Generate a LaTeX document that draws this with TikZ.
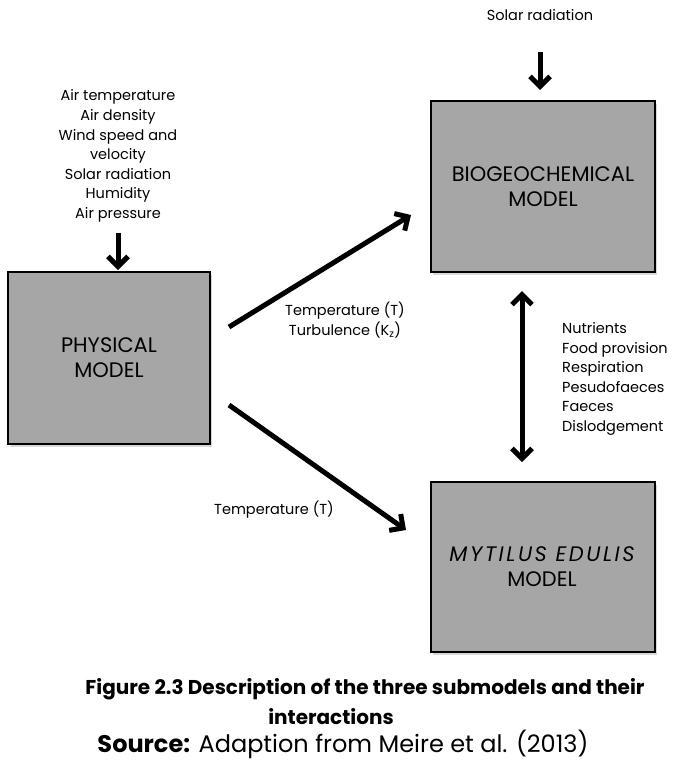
\documentclass[tikz,border=0pt]{standalone}
\usepackage{fontspec}
\setmainfont{Poppins}
\usetikzlibrary{arrows.meta,shadows}
\begin{document}
\begin{tikzpicture}[x=1pt,y=-1pt,
  modelbox/.style={draw=black,line width=1.6pt,fill=boxgray,
    drop shadow={shadow xshift=2pt,shadow yshift=-3pt,fill=black,opacity=0.15}},
  headtip/.tip={Straight Barb[length=10pt,width=20pt,line width=5pt]},
  bigarrow/.style={line width=5pt,-headtip},
  dblarrow/.style={line width=5pt,headtip-headtip},
  lbl/.style={font=\fontsize{14.5}{19.6}\selectfont,inner sep=0pt},
  boxtxt/.style={font=\fontsize{21}{25}\selectfont,align=center}]
\definecolor{boxgray}{HTML}{A6A6A6}
\useasboundingbox (0,0) rectangle (677,761);
\fill[white] (0,0) rectangle (677,761);
% boxes
\path[modelbox] (8,272) rectangle (210,444);
\path[modelbox] (431,101) rectangle (655,272);
\path[modelbox] (431,482) rectangle (655,652);
\node[boxtxt] (phys) at (109,358) {PHYSICAL\\MODEL};
\node[boxtxt] (bio) at (543,187) {BIOGEOCHEMICAL\\MODEL};
\node[boxtxt] (myt) at (542,567) {{\itshape\addfontfeature{LetterSpace=12}MYTILUS EDULIS}\\MODEL};
% inputs
\node[lbl,align=center] (inp) at (118,156) {Air temperature\\Air density\\Wind speed and\\velocity\\Solar radiation\\Humidity\\Air pressure};
\coordinate (inA) at (118,233);
\coordinate (inB) at (118,270);
\draw[bigarrow] (inA) -- (inB);
\node[lbl] (solar) at (540,15) {Solar radiation};
\coordinate (soA) at (540,52);
\coordinate (soB) at (540,90);
\draw[bigarrow] (soA) -- (soB);
% diagonal arrows
\coordinate (d1a) at (229,327);
\coordinate (d1b) at (411,215);
\draw[bigarrow] (d1a) -- (d1b);
\node[lbl,align=center] (l1) at (345,320) {Temperature (T)\\Turbulence (K\textsubscript{z})};
\coordinate (d2a) at (229,405);
\coordinate (d2b) at (406,530);
\draw[bigarrow] (d2a) -- (d2b);
\node[lbl] (l2) at (274,510) {Temperature (T)};
% vertical double arrow
\coordinate (vA) at (522,291);
\coordinate (vB) at (522,462);
\draw[dblarrow] (vA) -- (vB);
\node[lbl,align=left,anchor=west] (l3) at (562,379) {Nutrients\\Food provision\\Respiration\\Pesudofaeces\\Faeces\\Dislodgement};
% caption
\node[font=\fontsize{20}{29}\selectfont\bfseries,inner sep=0pt] (cap) at (365,689) {Figure 2.3 Description of the three submodels and their};
\node[font=\fontsize{20}{29}\selectfont\bfseries,inner sep=0pt] (cap2) at (331,717) {interactions};
\node[font=\fontsize{24}{29}\selectfont,inner sep=0pt] (src) at (343,744) {\textbf{Source:} Adaption from Meire et al. (2013)};
\end{tikzpicture}
\end{document}
